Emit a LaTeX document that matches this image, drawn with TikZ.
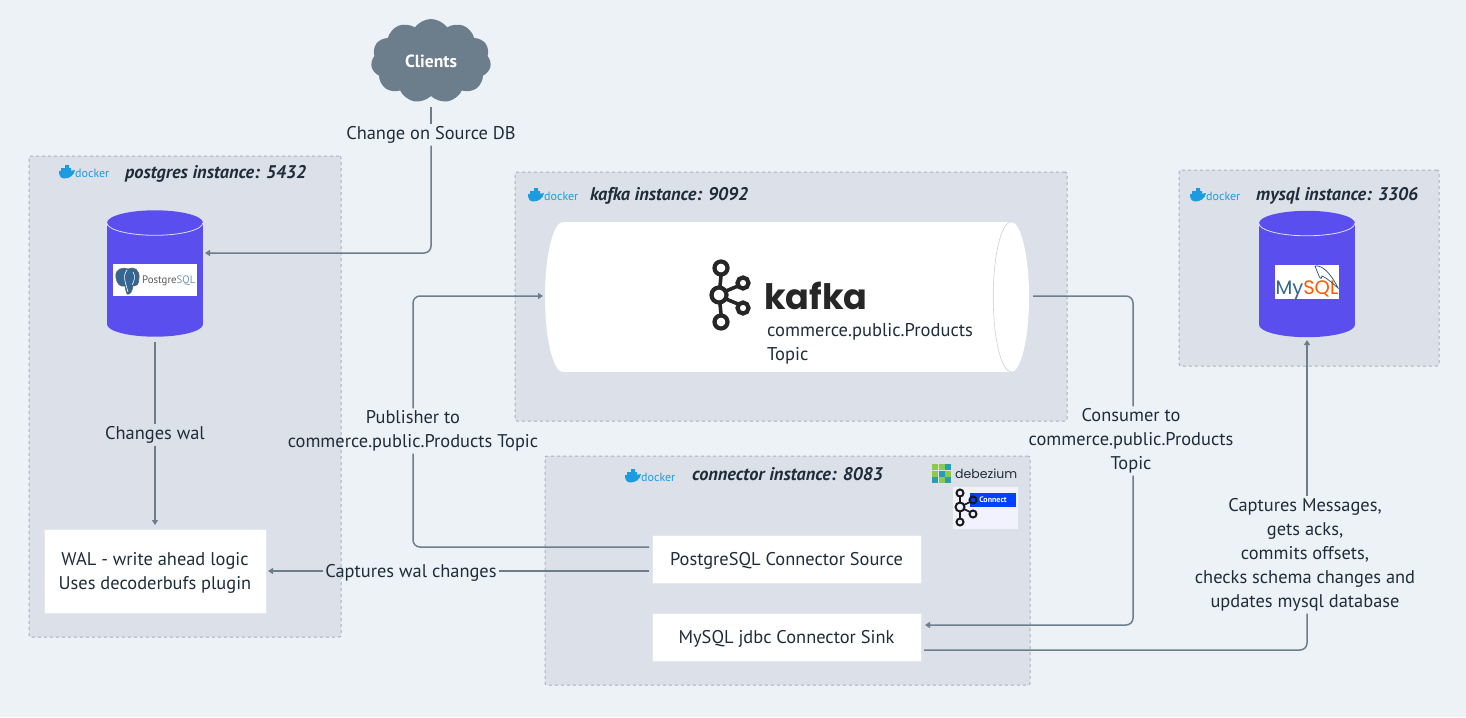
\documentclass[tikz,border=0pt]{standalone}
\usepackage{fontspec}
\setmainfont{PT Sans}
\newfontfamily\logofont{Poppins}
\usetikzlibrary{shapes.symbols,arrows.meta}
\definecolor{pagebg}{HTML}{EDF2F7}
\definecolor{groupbg}{HTML}{DCE0E9}
\definecolor{groupline}{HTML}{A9B3BF}
\definecolor{dbfill}{HTML}{5A4FEE}
\definecolor{wire}{HTML}{6C7D8C}
\definecolor{ink}{HTML}{1F2D3A}
\definecolor{dockerblue}{HTML}{1D9BE0}
\definecolor{pgblue}{HTML}{336791}
\definecolor{dbzgreen}{HTML}{8CCB4A}
\definecolor{dbzteal}{HTML}{2A9DB0}
\tikzset{
	group/.style={draw=groupline,dashed,fill=groupbg,rounded corners=2pt,line width=1pt},
	title/.style={font=\fontsize{18.3}{20}\selectfont\bfseries\itshape,text=ink,anchor=west,inner sep=0pt},
	whitebox/.style={draw=groupbg!80!white,fill=white,line width=1pt,align=center,text=ink,inner sep=0pt,text depth=0pt,font=\fontsize{18.4}{24}\selectfont},
	dblabel/.style={font=\fontsize{18.4}{24}\selectfont,text=ink,align=center,inner sep=2pt},
	database/.style={fill=dbfill,minimum width=96pt,minimum height=101pt,inner sep=0pt},
	wireline/.style={draw=wire,line width=1.5pt,rounded corners=7pt},
	link/.style={wireline,-{Triangle[length=5pt,width=6pt]}},
	dockerlogo/.pic={
		\fill[dockerblue] (0,-1) .. controls (6,-1) and (13,-1) .. (16,-2) .. controls (15,4) and (10,6.5) .. (5,6.5) .. controls (1,6) and (0,3) .. (0,-1) -- cycle;
		\fill[dockerblue] (2,-4) rectangle (12,-.5) (6,-7) rectangle (10,-3);
		\node[inner sep=0pt,anchor=west,text=dockerblue,font=\fontsize{12}{12}\selectfont] at (16,1) {docker};
	},
	kafkaring/.style={draw=#1,line width=4.2pt},
}
\begin{document}
\begin{tikzpicture}[x=1pt,y=-1pt]
	\useasboundingbox[fill=pagebg] (0,0) rectangle (1466,717);

	% instances
	\node[group,minimum width=312pt,minimum height=481pt] (pggroup) at (185,396.5) {};
	\node[group,minimum width=552pt,minimum height=249pt] (kafkagroup) at (791,296.5) {};
	\node[group,minimum width=260pt,minimum height=196pt] (mysqlgroup) at (1309,268) {};
	\node[group,minimum width=485pt,minimum height=229pt] (connectgroup) at (787.5,570.5) {};

	\node[title] (pgtitle) at (125,173.5) {postgres instance: 5432};
	\node[title] (kafkatitle) at (590,195.5) {kafka instance: 9092};
	\node[title] (mysqltitle) at (1256,195.5) {mysql instance: 3306};
	\node[title] (connecttitle) at (692,474.5) {connector instance: 8083};

	\pic at (59,172) {dockerlogo};
	\pic at (528,195) {dockerlogo};
	\pic at (1190,195) {dockerlogo};
	\pic at (625,476) {dockerlogo};

	% databases
	\node[database] (pg) at (155,273.5) {};
	\node[database] (mysql) at (1307,274) {};
	\foreach \db in {pg,mysql} {
		\fill[black,opacity=.12] ([yshift=1.5pt]\db.south) ellipse [x radius=48,y radius=12.5];
		\fill[dbfill] (\db.north) ellipse [x radius=48,y radius=12.5];
		\fill[dbfill] (\db.south) ellipse [x radius=48,y radius=12.5];
		\node[database] at (\db) {};
		\draw[white!80!dbfill,line width=.8pt] (\db.north west) arc[start angle=180,end angle=360,x radius=48,y radius=-12.5];
	}

	\node[fill=white,minimum width=84pt,minimum height=32pt,inner sep=0pt] (pglogo) at (155,280) {};
	\fill[pgblue,draw=black!60,line width=.6pt] (116,278) .. controls (114,268) and (124,267) .. (128,269) .. controls (134,266) and (140,270) .. (139,278) .. controls (139,284) and (137,286) .. (133,286) .. controls (132,292) and (130,295) .. (127,294) .. controls (125,291) and (126,288) .. (125,286) .. controls (120,287) and (117,284) .. (116,278) -- cycle;
	\draw[white,line width=.6pt] (127,270) .. controls (122,276) and (126,284) .. (128,292) (133,272) .. controls (136,276) and (134,282) .. (132,285);
	\node[inner sep=0pt,anchor=west,font=\fontsize{10.8}{14}\selectfont] (pgtext) at (142,281) {\textcolor{black!65}{Postgre}\textcolor{pgblue!70}{SQL}};

	\node[fill=white,minimum width=64pt,minimum height=34pt,inner sep=0pt] (mysqllogo) at (1307,282) {};
	\node[inner sep=0pt,font=\logofont\fontsize{19.5}{18}\selectfont] (mysqltext) at (1307,290) {\textcolor{pgblue}{My}\textcolor{orange!70!red}{SQL}};
	\draw[pgblue!80!black,line width=.7pt] (1315,266) .. controls (1322,265) and (1330,272) .. (1338,288) .. controls (1331,282) and (1327,278) .. (1322,276) .. controls (1321,281) and (1320,279) .. (1315,266);

	% kafka log
	\fill[white] (563,297) ellipse [x radius=18,y radius=75];
	\fill[white] (1011,297) ellipse [x radius=18,y radius=75];
	\node[fill=white,minimum width=448pt,minimum height=150pt,inner sep=0pt] (topic) at (787,297) {};
	\draw[groupline!60,line width=.6pt] (topic.north east) arc[start angle=90,end angle=270,x radius=18,y radius=-75];
	\foreach \cx/\cy/\cr in {721/268/6.5,719/295/7.5,721/322/6.5,743/283/5.5,743/308/5.5}
		\draw[kafkaring=black!85] (\cx,\cy) circle (\cr pt);
	\draw[black!85,line width=3.6pt] (721,276) -- (720,286) (720,304) -- (721,314) (726,291) -- (738,286) (726,299) -- (738,304);
	\node[inner sep=0pt,anchor=west,text=black!85,font=\logofont\bfseries\fontsize{35}{36}\selectfont] (kafkaword) at (764,296) {kafka};
	\node[inner sep=0pt,anchor=north west,align=left,text=ink,font=\fontsize{18.5}{24}\selectfont] (topicname) at (767,323) {commerce.public.Products\\Topic};

	% connect logos
	\foreach \dx/\dy/\dbzcol in {0/0/dbzgreen,1/0/dbzgreen,2/0/dbzteal,0/1/dbzgreen,1/1/dbzteal,2/1/dbzgreen,0/2/dbzteal,1/2/dbzgreen,2/2/dbzteal}
		\fill[\dbzcol] (932+\dx*6.5,464+\dy*6.5) rectangle ++(6,6);
	\node[inner sep=0pt,anchor=west,text=ink,font=\logofont\fontsize{12.5}{14}\selectfont] (debezium) at (955,474) {debezium};
	\node[fill=blue!5,minimum width=65pt,minimum height=42pt,inner sep=0pt] (connectlogo) at (985.5,508) {};
	\node[fill=blue!75!cyan,minimum width=46pt,minimum height=14pt,inner sep=0pt,text=white,font=\bfseries\fontsize{8}{9}\selectfont] (connectword) at (993,500) {Connect};
	\foreach \cx/\cy/\cr in {960/493/3.5,960/507/4.5,960/522/3.5,973/500/3.5,973/514/3.5}
		\draw[black!90,line width=2pt] (\cx,\cy) circle (\cr pt);
	\draw[black!90,line width=1.6pt] (960,496) -- (960,503) (960,511) -- (960,518) (964,505) -- (970,502) (964,509) -- (970,512);

	% boxes
	\node[whitebox,minimum width=222pt,minimum height=84pt] (wal) at (155,571) {WAL - write ahead logic\\Uses decoderbufs plugin};
	\node[whitebox,minimum width=269pt,minimum height=48pt] (source) at (786.5,559) {PostgreSQL Connector Source};
	\node[whitebox,minimum width=269pt,minimum height=48pt] (sink) at (786.5,637) {MySQL jdbc Connector Sink};

	\node[cloud,cloud puffs=11,cloud puff arc=110,aspect=1.5,fill=wire,minimum width=120pt,minimum height=84pt,inner sep=0pt,text=white,font=\bfseries\fontsize{17.6}{20}\selectfont] (clients) at (431,61) {Clients};

	% connector labels
	\node[dblabel] (changesource) at (431,135) {Change on Source DB};
	\node[dblabel] (changewal) at (155,435) {Changes wal};
	\node[dblabel] (capturewal) at (411,573) {Captures wal changes};
	\node[dblabel] (publisher) at (413,431) {Publisher to\\commerce.public.Products Topic};
	\node[dblabel] (consumer) at (1131,441) {Consumer to\\commerce.public.Products\\Topic};
	\node[dblabel] (captures) at (1305,555) {Captures Messages,\\gets acks,\\commits offsets,\\checks schema changes and\\updates mysql database};

	% connector ends
	\coordinate (a1) at (431,107);
	\coordinate (a2) at (205,253);
	\coordinate (b1) at (155,342);
	\coordinate (b2) at (155,525);
	\coordinate (c1) at (649,571);
	\coordinate (c2) at (268,571);
	\coordinate (d1) at (649,547);
	\coordinate (d2) at (543,296);
	\coordinate (e1) at (1033,296);
	\coordinate (e2) at (925,625);
	\coordinate (e3) at (1133,296);
	\coordinate (f1) at (924,650);
	\coordinate (f2) at (1307,340);
	\coordinate (f3) at (1307,650);

	\draw[wireline] (a1) -- (changesource);
	\draw[link] (changesource) -- (431,253) -- (a2);
	\draw[wireline] (b1) -- (changewal);
	\draw[link] (changewal) -- (b2);
	\draw[wireline] (c1 -| capturewal.east) -- (c1);
	\draw[link] (capturewal.west |- c1) -- (c2);
	\draw[wireline] (d1) -- (413,547) -- (publisher);
	\draw[link] (publisher) -- (413,296) -- (d2);
	\draw[wireline] (e1) -- (e3) -- (consumer.north -| e3);
	\draw[link] (consumer.south -| e3) -- (1133,625) -- (e2);
	\draw[wireline] (f1) -- (f3) -- (captures.south -| f3);
	\draw[link] (captures.north -| f3) -- (f2);
\end{tikzpicture}
\end{document}
